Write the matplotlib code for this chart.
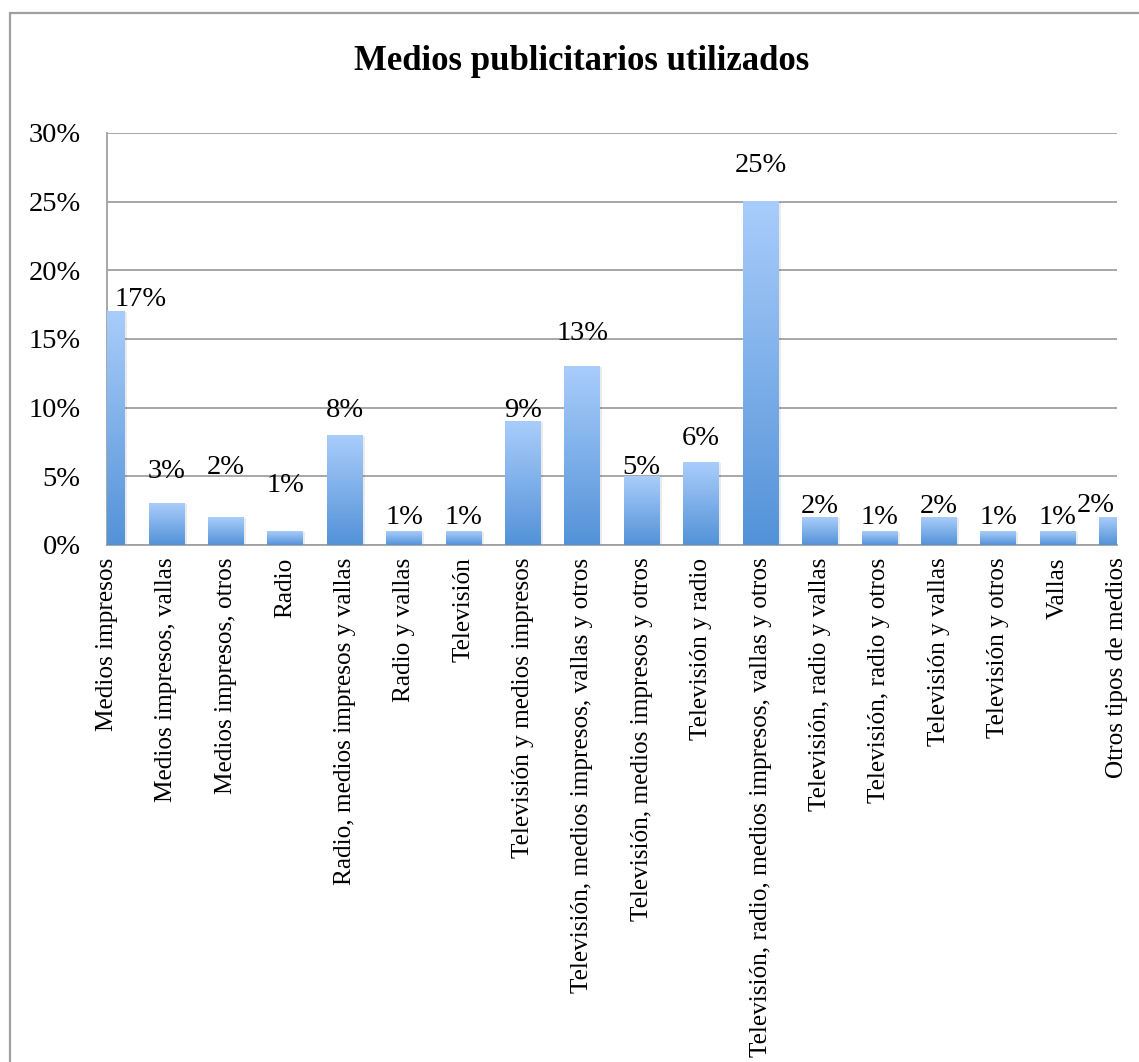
import numpy as np
import matplotlib
matplotlib.use("Agg")
import matplotlib.pyplot as plt
from matplotlib.patches import Rectangle
from matplotlib.colors import LinearSegmentedColormap
from matplotlib.ticker import FuncFormatter, MultipleLocator

# Data
categories = [
    "Medios impresos",
    "Medios impresos, vallas",
    "Medios impresos, otros",
    "Radio",
    "Radio, medios impresos y vallas",
    "Radio y vallas",
    "Televisión",
    "Televisión y medios impresos",
    "Televisión, medios impresos, vallas y otros",
    "Televisión, medios impresos y otros",
    "Televisión y radio",
    "Televisión, radio, medios impresos, vallas y otros",
    "Televisión, radio y vallas",
    "Televisión, radio y otros",
    "Televisión y vallas",
    "Televisión y otros",
    "Vallas",
    "Otros tipos de medios",
]
shares = [17, 3, 2, 1, 8, 1, 1, 9, 13, 5, 6, 25, 2, 1, 2, 1, 1, 2]

# Label placement tweaks (points above bar top, horizontal shift in points)
label_dy = [9, 23, 36, 33, 18, 10, 10, 8, 24, 6, 17, 26, 8, 10, 8, 10, 10, 9]
label_dx = [24, 0, 0, 0, 0, 0, 0, 0, 0, 0, 0, 0, 0, 0, 0, 0, 0, -15]

SERIF = ["Liberation Serif", "DejaVu Serif"]
plt.rcParams["font.family"] = SERIF

W, H, DPI = 1139, 1062, 100
fig = plt.figure(figsize=(W / DPI, H / DPI), dpi=DPI)

# Outer chart frame (extends past right and bottom edges)
fig.patches.append(Rectangle((10 / W, -0.05), 1.2, (1 - 13 / H) + 0.05,
                             transform=fig.transFigure, fill=False,
                             edgecolor="#a0a0a0", linewidth=1.6, zorder=0))

left, right = 107 / W, 1117 / W
bottom, top = 1 - 545 / H, 1 - 133 / H
ax = fig.add_axes([left, bottom, right - left, top - bottom])

x = np.arange(len(categories))
bar_w = 0.6

cmap = LinearSegmentedColormap.from_list("bluegrad", ["#5392d8", "#a9cdfb"])
grad = np.linspace(0, 1, 256).reshape(-1, 1)

for xi, v in zip(x, shares):
    # soft shadow
    ax.add_patch(Rectangle((xi - bar_w / 2 + 0.04, 0), bar_w, v - 0.05,
                           facecolor="#000000", alpha=0.08, edgecolor="none",
                           zorder=2))
    ax.imshow(grad, cmap=cmap, origin="lower", aspect="auto",
              extent=(xi - bar_w / 2, xi + bar_w / 2, 0, v), zorder=3,
              interpolation="bilinear")

ax.set_xlim(0, len(categories) - 1)
ax.set_ylim(0, 30)

for xi, v, dy, dx in zip(x, shares, label_dy, label_dx):
    ax.annotate(f"{v}%", (xi, v), xytext=(dx, dy), textcoords="offset points",
                ha="center", va="center", fontsize=20.5, color="#000000",
                zorder=5)

ax.yaxis.set_major_locator(MultipleLocator(5))
ax.yaxis.set_major_formatter(FuncFormatter(lambda y, _: f"{int(y)}%"))
ax.grid(axis="y", color="#a0a0a0", linewidth=1.3)
ax.set_axisbelow(True)

ax.set_xticks(x)
ax.set_xticklabels(categories, rotation=90, ha="center", va="top", fontsize=18.2)
ax.tick_params(axis="both", length=0)
ax.tick_params(axis="y", labelsize=20.5, pad=19)
ax.tick_params(axis="x", pad=9)

for side in ("top", "right"):
    ax.spines[side].set_visible(False)
for side in ("left", "bottom"):
    ax.spines[side].set_color("#a0a0a0")
    ax.spines[side].set_linewidth(1.3)

fig.text(582 / W, 1 - 62 / H, "Medios publicitarios utilizados",
         ha="center", va="center", fontsize=25, fontweight="bold")

fig.savefig("out.png", dpi=DPI, facecolor="white")
